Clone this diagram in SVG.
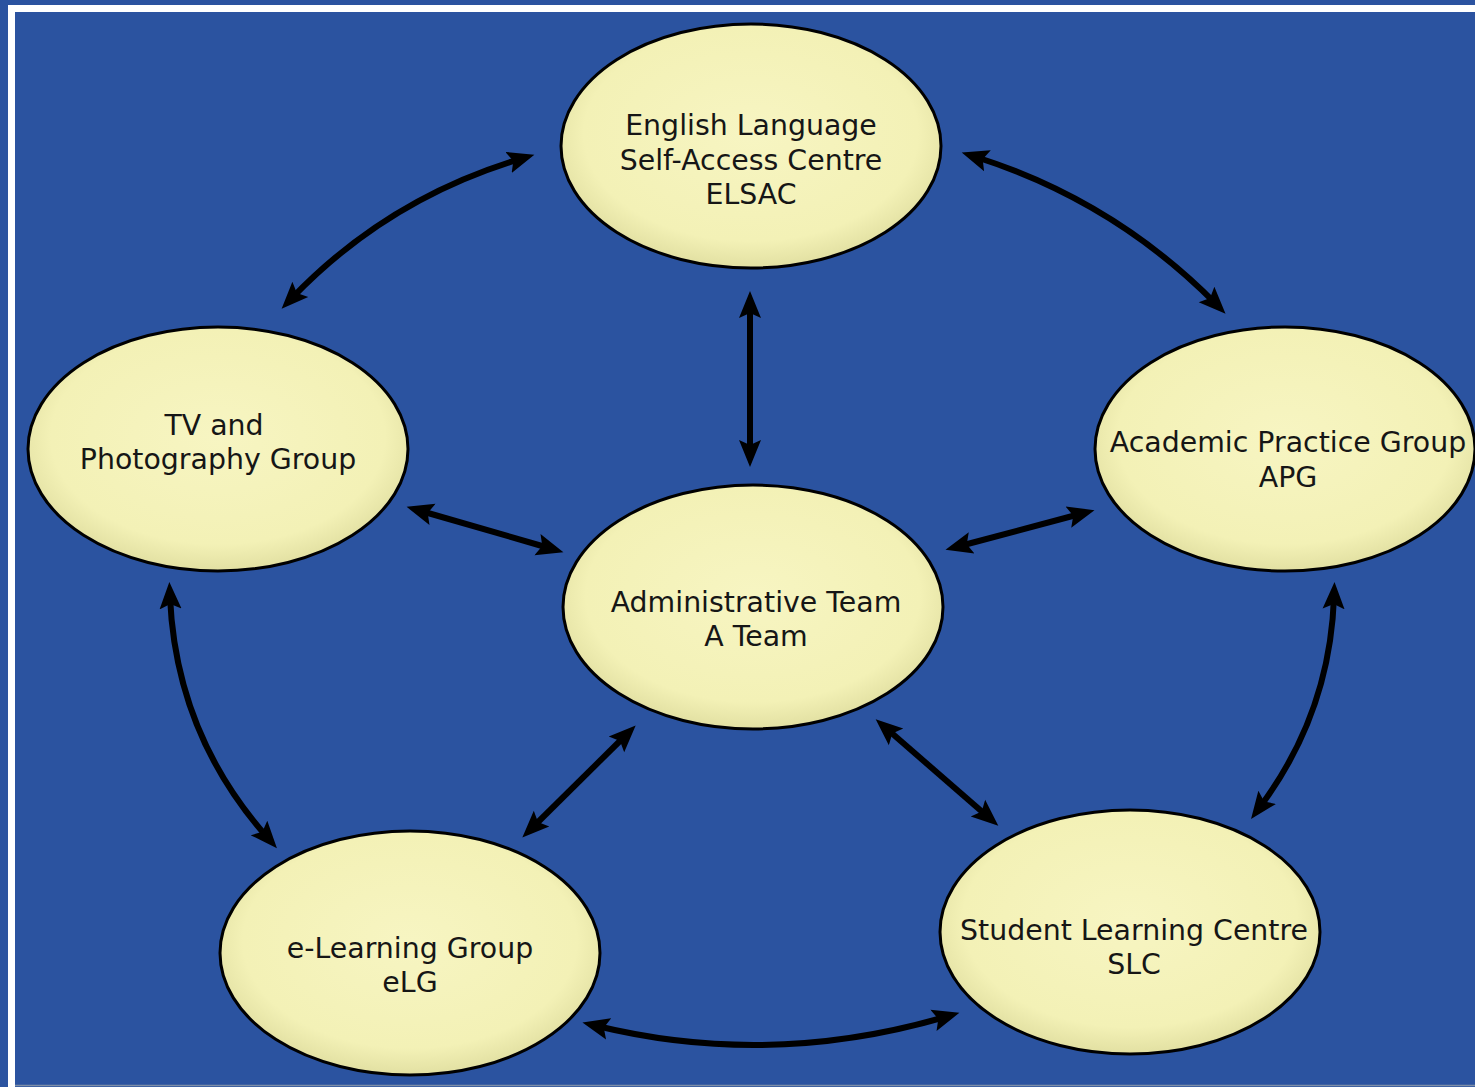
<svg xmlns="http://www.w3.org/2000/svg" width="1475" height="1087" viewBox="0 0 1475 1087">
<style>
.node{fill:url(#eg);stroke:#000;stroke-width:3}
.lbl{font-family:"DejaVu Sans","Liberation Sans",sans-serif;font-size:28.4px;fill:#161616;text-anchor:middle}
.con{fill:none;stroke:#000;stroke-width:6;marker-start:url(#ah);marker-end:url(#ah)}
</style>
<defs>
<radialGradient id="eg" cx="50%" cy="45%" r="55%">
<stop offset="0" stop-color="#F7F5C2"/>
<stop offset="0.8" stop-color="#F3F1B6"/>
<stop offset="1" stop-color="#E2E0A2"/>
</radialGradient>
<marker id="ah" markerUnits="userSpaceOnUse" markerWidth="30" markerHeight="24" refX="12" refY="11" orient="auto-start-reverse" viewBox="0 0 30 22">
<path d="M0,0 L27,11 L0,22 L5,11 Z" fill="#000"/>
</marker>
</defs>
<rect x="0" y="0" width="1475" height="1087" fill="#2B53A0"/>
<rect x="11.5" y="8.5" width="1480" height="1090" fill="none" stroke="#FFFFFF" stroke-width="7"/>
<line x1="15" y1="1085.5" x2="1475" y2="1085.5" stroke="#7F8FA8" stroke-width="1.5"/>
<g id="connectors">
<path class="con" d="M292,298 Q387,199 520,159"/>
<path class="con" d="M976,157 Q1114,201 1215,303"/>
<path class="con" d="M750,306 L750,452"/>
<path class="con" d="M421,511 L549,548"/>
<path class="con" d="M1080,514 L960,546"/>
<path class="con" d="M170,597 Q176,734 267,837"/>
<path class="con" d="M1334,597 Q1330,713 1260,807"/>
<path class="con" d="M625,736 L533,827"/>
<path class="con" d="M887,729 L987,816"/>
<path class="con" d="M597,1026 Q770,1068 945,1017"/>
</g>
<g id="elsac">
<ellipse class="node" cx="751" cy="146" rx="190" ry="122"/>
<text class="lbl" x="751" y="135">English Language</text>
<text class="lbl" x="751" y="170">Self-Access Centre</text>
<text class="lbl" x="751" y="204">ELSAC</text>
</g>
<g id="tv">
<ellipse class="node" cx="218" cy="449" rx="190" ry="122"/>
<text class="lbl" x="214" y="435">TV and</text>
<text class="lbl" x="218" y="469">Photography Group</text>
</g>
<g id="apg">
<ellipse class="node" cx="1285" cy="449" rx="190" ry="122"/>
<text class="lbl" x="1288" y="452">Academic Practice Group</text>
<text class="lbl" x="1288" y="487">APG</text>
</g>
<g id="ateam">
<ellipse class="node" cx="753" cy="607" rx="190" ry="122"/>
<text class="lbl" x="756" y="612">Administrative Team</text>
<text class="lbl" x="756" y="646">A Team</text>
</g>
<g id="elg">
<ellipse class="node" cx="410" cy="953" rx="190" ry="122"/>
<text class="lbl" x="410" y="958">e-Learning Group</text>
<text class="lbl" x="410" y="992">eLG</text>
</g>
<g id="slc">
<ellipse class="node" cx="1130" cy="932" rx="190" ry="122"/>
<text class="lbl" x="1134" y="940">Student Learning Centre</text>
<text class="lbl" x="1134" y="974">SLC</text>
</g>
</svg>
